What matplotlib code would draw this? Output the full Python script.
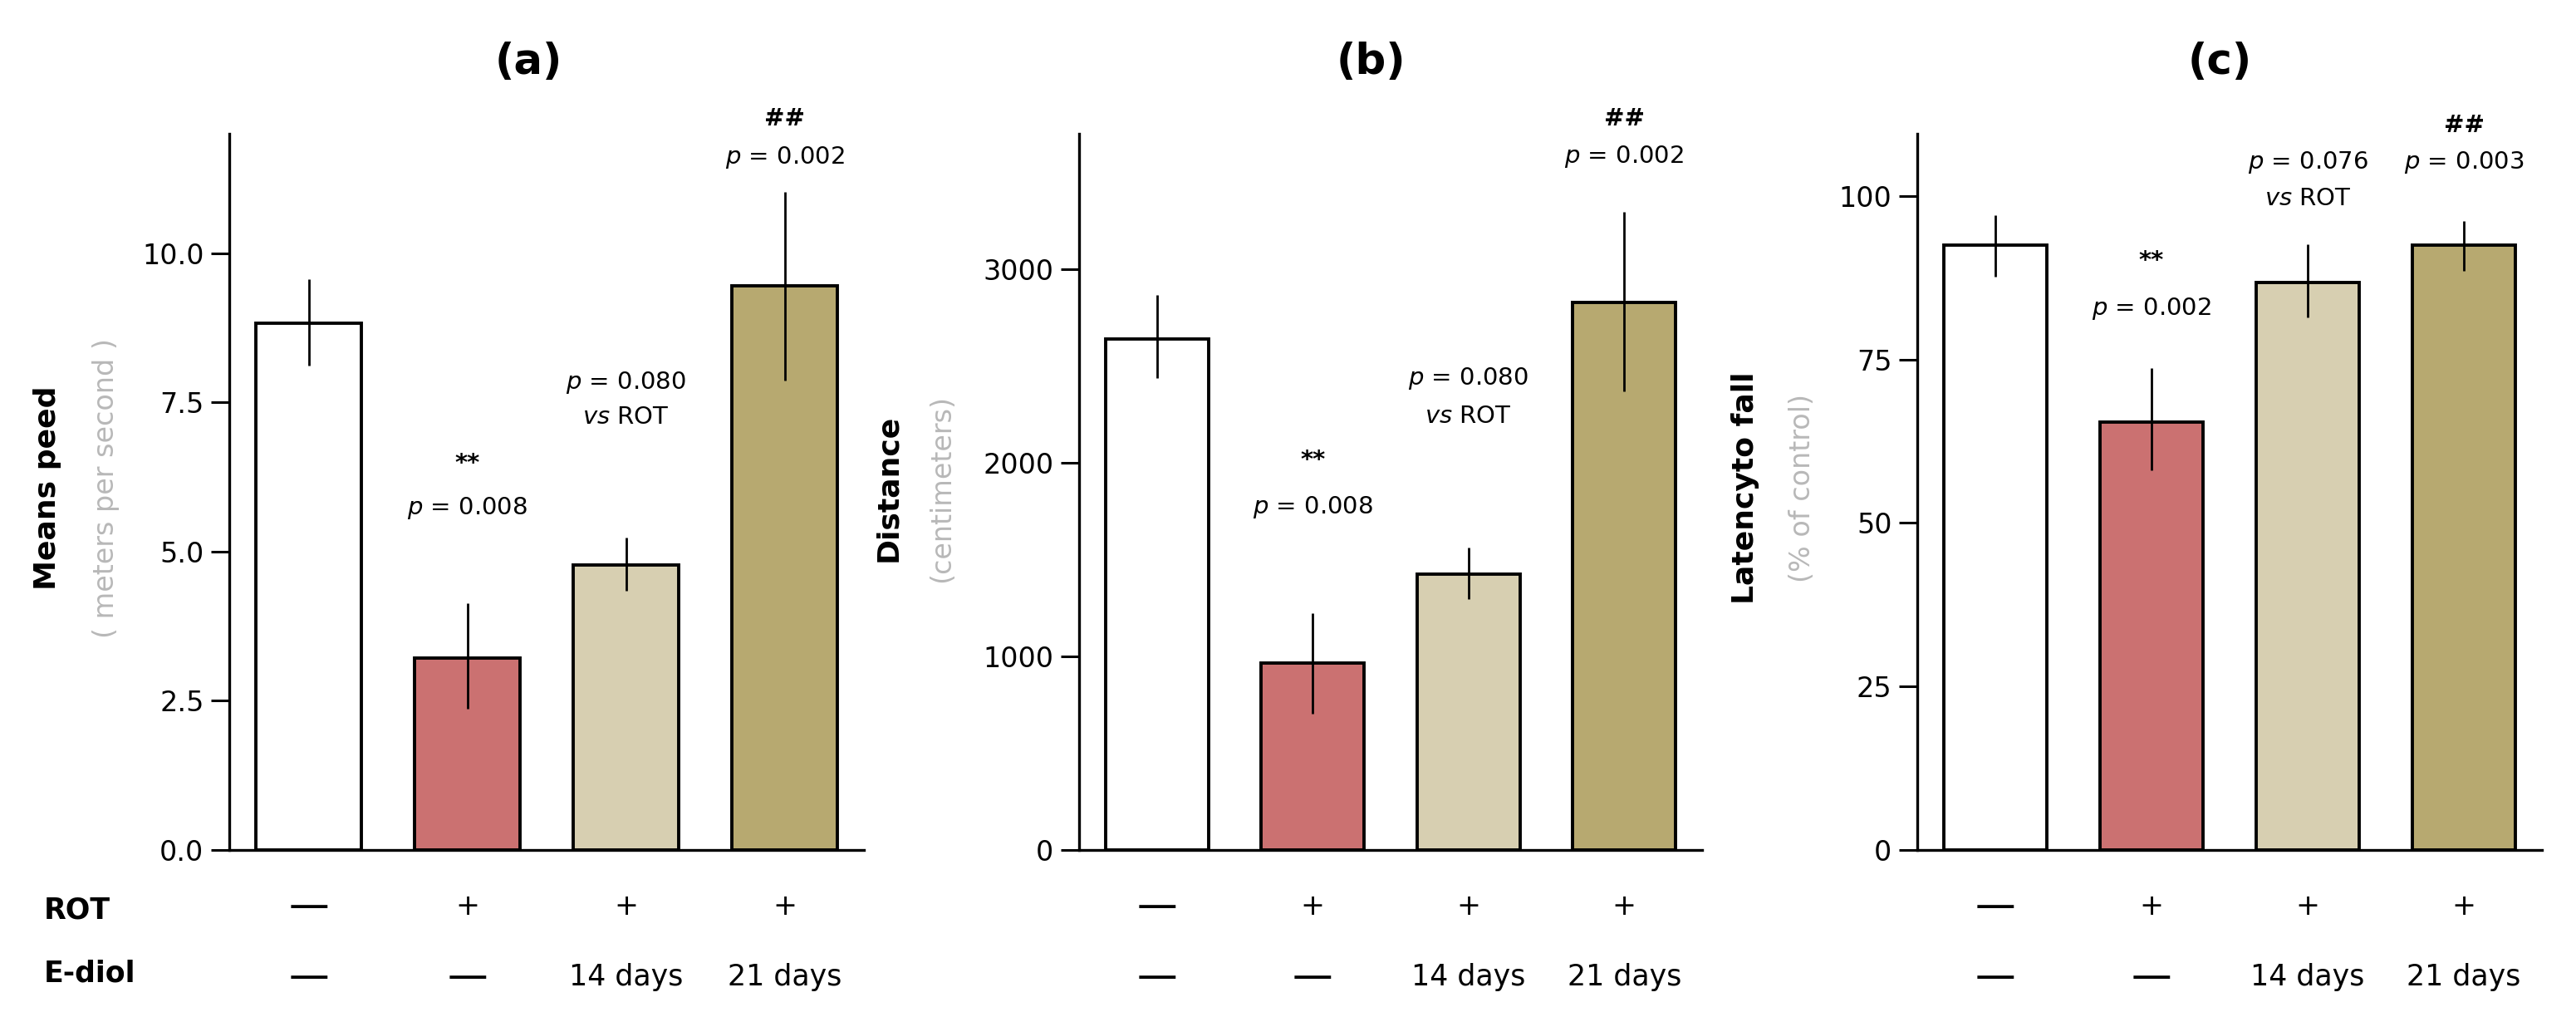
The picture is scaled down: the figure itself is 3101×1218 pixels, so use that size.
"""Three-panel bar chart: rotarod / open-field measures for ROT and E-diol groups."""

import matplotlib
matplotlib.use("Agg")
import matplotlib.pyplot as plt
from matplotlib import transforms

# ---- data ---------------------------------------------------------------
GROUPS = ["Control", "ROT", "ROT + E-diol 14 d", "ROT + E-diol 21 d"]
ROT_ROW = ["—", "+", "+", "+"]
EDIOL_ROW = ["—", "—", "14 days", "21 days"]

SPEED_MEAN = [8.83, 3.22, 4.78, 9.45]
SPEED_LOW = [8.12, 2.36, 4.35, 7.87]
SPEED_HIGH = [9.57, 4.13, 5.23, 11.02]

DIST_MEAN = [2640, 965, 1425, 2830]
DIST_LOW = [2440, 703, 1295, 2370]
DIST_HIGH = [2867, 1222, 1562, 3298]

LAT_MEAN = [92.5, 65.4, 86.8, 92.5]
LAT_LOW = [87.6, 58.0, 81.4, 88.6]
LAT_HIGH = [97.1, 73.7, 92.6, 96.1]

SPEED_NOTES = [(1, "**", "$p$ = 0.008"), (2, "$p$ = 0.080", "$vs$ ROT"), (3, "##", "$p$ = 0.002")]
DIST_NOTES = [(1, "**", "$p$ = 0.008"), (2, "$p$ = 0.080", "$vs$ ROT"), (3, "##", "$p$ = 0.002")]
LAT_NOTES = [(1, "**", "$p$ = 0.002"), (2, "$p$ = 0.076", "$vs$ ROT"), (3, "##", "$p$ = 0.003")]

SPEED_TICKS = [0.0, 2.5, 5.0, 7.5, 10.0]
DIST_TICKS = [0, 1000, 2000, 3000]
LAT_TICKS = [0, 25, 50, 75, 100]

# ---- style ---------------------------------------------------------------
W, H = 3101, 1218
BAR_COLORS = ["#ffffff", "#cb7171", "#d7cfb1", "#b7a970"]
GRAY = "#b8b8b8"
TOP_PX, ZERO_PX = 161, 1023
FS_TICK = 24
FS_NOTE = 21

panels = [
    dict(title="(a)", box=(276, 1040), mean=SPEED_MEAN, low=SPEED_LOW, high=SPEED_HIGH,
         ylim=12.0, ticks=SPEED_TICKS, fmt="{:.1f}", label="Means peed",
         sub="( meters per second )", notes=SPEED_NOTES,
         note_y={1: (6.47, 5.73), 2: (7.83, 7.25), 3: (12.25, 11.6)},
         title_x=0.472, lab_x=(-0.287, -0.195)),
    dict(title="(b)", box=(1299, 2049), mean=DIST_MEAN, low=DIST_LOW, high=DIST_HIGH,
         ylim=3700, ticks=DIST_TICKS, fmt="{:d}", label="Distance",
         sub="(centimeters)", notes=DIST_NOTES,
         note_y={1: (2013, 1769), 2: (2436, 2239), 3: (3778, 3581)},
         title_x=0.469, lab_x=(-0.307, -0.221)),
    dict(title="(c)", box=(2308, 3060), mean=LAT_MEAN, low=LAT_LOW, high=LAT_HIGH,
         ylim=109.5, ticks=LAT_TICKS, fmt="{:d}", label="Latencyto fall",
         sub="(% of control)", notes=LAT_NOTES,
         note_y={1: (90.1, 82.7), 2: (105.1, 99.6), 3: (110.8, 105.1)},
         title_x=0.485, lab_x=(-0.275, -0.184)),
]


def draw_panel(fig, p):
    left, right = p["box"]
    ax = fig.add_axes([left / W, 1 - ZERO_PX / H, (right - left) / W, (ZERO_PX - TOP_PX) / H])
    x = list(range(len(GROUPS)))
    mean = p["mean"]
    yerr = [[m - lo for m, lo in zip(mean, p["low"])],
            [hi - m for m, hi in zip(mean, p["high"])]]
    ax.bar(x, mean, width=0.66, color=BAR_COLORS, edgecolor="black",
           linewidth=2.8, zorder=2)
    ax.errorbar(x, mean, yerr=yerr, fmt="none", ecolor="black",
                elinewidth=2.0, capsize=0, zorder=3)

    ax.set_xlim(-0.5, 3.5)
    ax.set_ylim(0, p["ylim"])
    ax.set_xticks([])
    ax.set_yticks(p["ticks"])
    ax.set_yticklabels([p["fmt"].format(t) for t in p["ticks"]])
    ax.tick_params(axis="y", length=16, width=2.2, pad=6, labelsize=FS_TICK)
    for side in ("top", "right"):
        ax.spines[side].set_visible(False)
    for side in ("left", "bottom"):
        ax.spines[side].set_linewidth(2.4)

    ax.text(p["title_x"], 1.10, p["title"], transform=ax.transAxes,
            ha="center", va="center", fontsize=37, fontweight="bold")
    ax.text(p["lab_x"][0], 0.505, p["label"], transform=ax.transAxes, rotation=90,
            ha="center", va="center", fontsize=26, fontweight="bold")
    ax.text(p["lab_x"][1], 0.505, p["sub"], transform=ax.transAxes, rotation=90,
            ha="center", va="center", fontsize=24, color=GRAY)

    for idx, line1, line2 in p["notes"]:
        y1, y2 = p["note_y"][idx]
        w1 = "bold" if line1 in ("**", "##") else "normal"
        ax.text(idx, y1, line1, ha="center", va="center", fontsize=FS_NOTE,
                fontweight=w1, clip_on=False)
        ax.text(idx, y2, line2, ha="center", va="center", fontsize=FS_NOTE,
                clip_on=False)

    # treatment rows under the bars
    trans = transforms.blended_transform_factory(ax.transData, fig.transFigure)
    for i in x:
        for row, ypx in ((ROT_ROW, 1091), (EDIOL_ROW, 1176)):
            s = row[i]
            size = 35 if s == "—" else 25
            ax.text(i, 1 - ypx / H, s, transform=trans, ha="center", va="center",
                    fontsize=size)
    return ax


def main():
    fig = plt.figure(figsize=(W / 100, H / 100), dpi=100)
    for p in panels:
        draw_panel(fig, p)

    fig.text(53 / W, 1 - 1095 / H, "ROT", ha="left", va="center",
             fontsize=25, fontweight="bold")
    fig.text(53 / W, 1 - 1172 / H, "E-diol", ha="left", va="center",
             fontsize=25, fontweight="bold")

    fig.savefig("out.png", dpi=100)


if __name__ == "__main__":
    main()
